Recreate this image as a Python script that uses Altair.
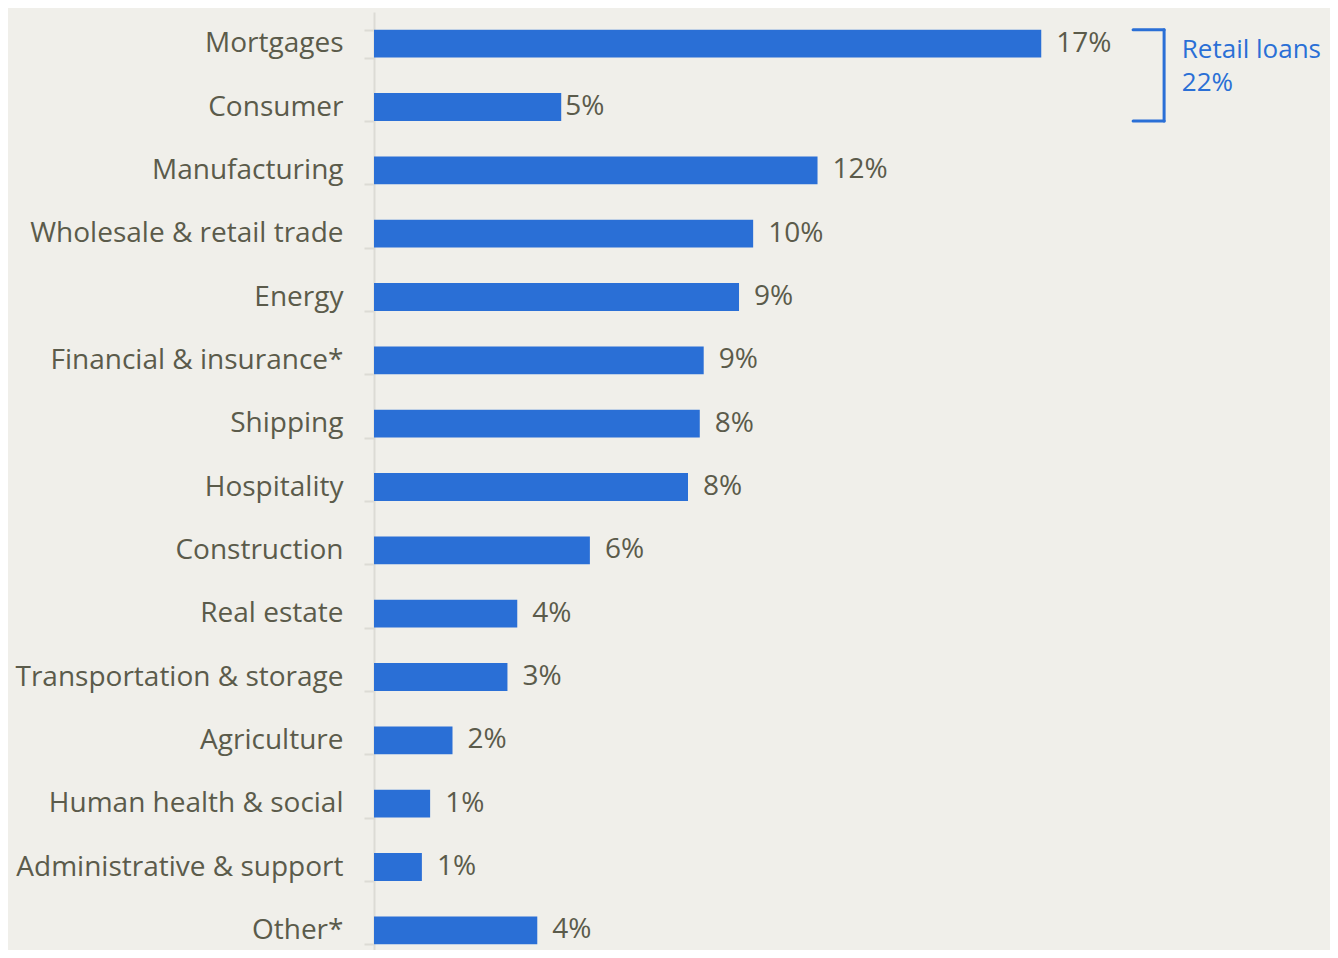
import altair as alt
import pandas as pd

categories = ["Mortgages", "Consumer", "Manufacturing", "Wholesale & retail trade", "Energy",
              "Financial & insurance*", "Shipping", "Hospitality", "Construction", "Real estate",
              "Transportation & storage", "Agriculture", "Human health & social",
              "Administrative & support", "Other*"]
values = [17.0, 4.77, 11.3, 9.66, 9.3, 8.4, 8.3, 8.0, 5.5, 3.65, 3.4, 2.0, 1.43, 1.22, 4.16]
labels = ["17%", "5%", "12%", "10%", "9%", "9%", "8%", "8%", "6%", "4%", "3%", "2%", "1%", "1%", "4%"]

bracket_cats = ["Mortgages", "Consumer"]
bracket_x = [19.34, 20.13]
annotation_text = ["Retail loans", "22%"]
annotation_x = 20.58

BLUE = "#2a6fd6"
TEXT = "#5b5b4b"
GRID = "#dcdbd5"
FONT = "Open Sans"
FS = 28

df = pd.DataFrame({"cat": categories, "value": values, "label": labels})

xscale = alt.Scale(domain=[0, 24], nice=False, zero=True)
yscale = alt.Scale(domain=categories, paddingInner=0.56, paddingOuter=0.28, range=[0, 950])

base = alt.Chart(df)

bars = base.mark_bar(color=BLUE).encode(
    x=alt.X("value:Q", scale=xscale, axis=None),
    y=alt.Y("cat:N", scale=yscale, sort=categories, title=None,
            axis=alt.Axis(labelFont=FONT, labelFontSize=FS, labelColor=TEXT,
                          labelPadding=21, tickBand="extent", tickSize=10,
                          tickColor=GRID, tickWidth=2, domainColor=GRID, domainWidth=2,
                          labelLimit=400)),
)

lab_main = base.transform_filter(alt.datum.cat != "Consumer").mark_text(
    align="left", baseline="middle", dx=15, font=FONT, fontSize=FS, color=TEXT
).encode(x=alt.X("value:Q", scale=xscale), y=alt.Y("cat:N", scale=yscale, sort=categories), text="label:N")

lab_cons = base.transform_filter(alt.datum.cat == "Consumer").mark_text(
    align="left", baseline="middle", dx=4, font=FONT, fontSize=FS, color=TEXT
).encode(x=alt.X("value:Q", scale=xscale), y=alt.Y("cat:N", scale=yscale, sort=categories), text="label:N")

bdf = pd.DataFrame({"top": [bracket_cats[0]], "bottom": [bracket_cats[1]],
                    "x0": [bracket_x[0]], "x1": [bracket_x[1]]})
bbase = alt.Chart(bdf)
top_rule = bbase.mark_rule(color=BLUE, strokeWidth=3, strokeCap="round").encode(
    x=alt.X("x0:Q", scale=xscale), x2="x1:Q",
    y=alt.Y("top:N", scale=yscale, sort=categories, bandPosition=0))
bot_rule = bbase.mark_rule(color=BLUE, strokeWidth=3, strokeCap="round").encode(
    x=alt.X("x0:Q", scale=xscale), x2="x1:Q",
    y=alt.Y("bottom:N", scale=yscale, sort=categories, bandPosition=1))
vert_rule = bbase.mark_rule(color=BLUE, strokeWidth=3, strokeCap="round").encode(
    x=alt.X("x1:Q", scale=xscale),
    y=alt.Y("top:N", scale=yscale, sort=categories, bandPosition=0),
    y2=alt.Y2("bottom:N", bandPosition=1))

adf = pd.DataFrame({"cat": [bracket_cats[0]], "x": [annotation_x], "t": [annotation_text]})
ann = alt.Chart(adf).mark_text(align="left", baseline="alphabetic", font=FONT, fontSize=26,
                               color=BLUE, lineHeight=33, dy=0).encode(
    x=alt.X("x:Q", scale=xscale),
    y=alt.Y("cat:N", scale=yscale, sort=categories, bandPosition=1),
    text="t")

chart = alt.layer(bars, lab_main, lab_cons, top_rule, bot_rule, vert_rule, ann).properties(
    width=942, height=938,
    autosize=alt.AutoSizeParams(type="none"),
    padding={"left": 366, "top": 4, "right": 14, "bottom": 0},
    background="#f0efea",
).configure_view(stroke=None)

chart.save("out.html", embed_options={"renderer": "svg", "actions": False})
